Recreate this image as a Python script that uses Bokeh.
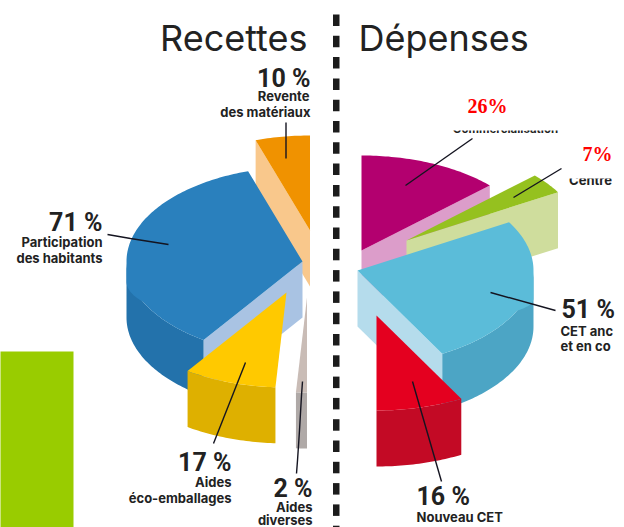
import numpy as np
from bokeh.plotting import figure
from bokeh.models import Range1d
from bokeh.core.properties import value
from bokeh.embed import file_html
from bokeh.resources import INLINE

# ---- data
recettes_labels = ["Revente des matériaux", "Participation des habitants", "Aides éco-emballages", "Aides diverses"]
recettes_values = [10, 71, 17, 2]
depenses_labels = ["Commercialisation", "Centre", "CET anciens et en cours", "Nouveau CET"]
depenses_values = [26, 7, 51, 16]

# ---- half-pie geometry: 100 % spans 180 degrees
RX, RY, DEPTH = 176, 95, 56
DEG_PER_PCT = 1.8
rec_apex = [(309.5, 230), (302, 261), (286, 292), (306.5, 297)]
dep_apex = [(361, 250), (406, 240), (357, 270), (376, 315)]
rec_rim = [0, 20, 0, 0]
dep_rim = [0, 0, 28, 0]

rec_col = [("#f09200", "#f9c88c", None), ("#2a80bd", "#a9c3e3", "#2372ab"),
           ("#ffc900", None, "#deb000"), ("#c9bcb6", None, "#afa9a7")]
dep_col = [("#b3006f", "#dc9dca", None), ("#95c11f", "#cfdd9d", None),
           ("#5bbcd9", "#b5dcec", "#4ca5c5"), ("#e4001f", None, "#c30a25")]

p = figure(width=624, height=527, output_backend="svg", toolbar_location=None,
           x_range=Range1d(0, 624), y_range=Range1d(527, 0), min_border=0,
           outline_line_color=None, background_fill_color="white")
p.axis.visible = False
p.grid.visible = False


def pt(c, t):
    r = np.radians(t)
    return c[0] + RX * np.cos(r), c[1] - RY * np.sin(r)


def draw(c, t1, t2, cols, face_at, rim):
    top, face, side = cols
    if face is not None:
        ex, ey = pt(c, face_at)
        p.patch([c[0], ex, ex, c[0]], [c[1], ey, ey + DEPTH, c[1] + DEPTH], color=face, line_width=0)
    lo, hi = min(t1, t2), max(t1, t2)
    if side is not None:
        # the outer wall is visible only where the rim faces the viewer (lower half of the ellipse)
        ts = np.array([t for t in np.arange(lo, hi + .01, 1.0) if np.sin(np.radians(t)) <= 0.001] + [hi if np.sin(np.radians(hi)) <= 0 else lo])
        ts = np.sort(ts)
        xs, ys = pt(c, ts)
        p.patch(np.r_[xs, xs[::-1]], np.r_[ys, ys[::-1] + DEPTH], color=side, line_width=0)
    ts = np.r_[np.arange(lo, hi, 1.0), hi]
    xs, ys = pt(c, ts)
    # the top face's rim droops a little where it turns to the horizontal extreme
    s = np.sin(np.radians(ts))
    d = np.degrees(np.arcsin(np.abs(s)))
    ys = ys + np.where(s < 0.001, rim * np.clip(1 - d / 25, 0, 1), 0)
    p.patch(np.r_[c[0], xs], np.r_[c[1], ys], color=top, line_width=0)


# Recettes: counter-clockwise from the top
a = 90.0
for v, c, cols, rim in zip(recettes_values, rec_apex, rec_col, rec_rim):
    b = a + v * DEG_PER_PCT
    draw(c, a, b, cols, b, rim)
    a = b

# Dépenses: clockwise from the top
a = 90.0
for v, c, cols, rim in zip(depenses_values, dep_apex, dep_col, dep_rim):
    b = a - v * DEG_PER_PCT
    draw(c, a, b, cols, b, rim)
    a = b

# green block
p.quad(left=[-3], right=[73], top=[351], bottom=[530], color="#99cc00", line_width=0)

# dashed divider
yd = np.arange(14, 527, 21.3)
p.quad(left=332.5, right=339, top=yd, bottom=yd + 11.5, color="#1c1c1c", line_width=0)

# leaders
leaders = [
    ([285.5, 285.5], [122, 158]),
    ([107, 130, 168], [234, 238, 244]),
    ([245, 213], [362, 443]),
    ([302, 301, 299, 297, 296], [381, 395, 430, 460, 473]),
    ([472, 405], [138, 185]),
    ([561, 513], [168, 197]),
    ([490, 555], [292, 310]),
    ([412, 441], [381, 481]),
]
for xs, ys in leaders:
    p.line(xs, ys, line_color="#141420", line_width=1.4)

INK = "#222222"


def txt(x, y, s, size, align="left", font="Inter", style="normal", color=INK):
    # y is the wanted baseline; the svg backend centres the text on its anchor
    p.text([x], [y - 0.36 * size], text=[s], text_font=value(font), text_font_size=f"{size}px",
           text_align=align, text_baseline="alphabetic", text_color=color, text_font_style=style)


PCT = "Roboto"
PS = 25
LAB = 13
txt(307, 50, "Recettes", 36, "right")
txt(358, 50, "Dépenses", 36)

txt(310, 87, "10 %", PS, "right", PCT, "bold")
txt(309, 100, "Revente", LAB, "right", "Inter", "bold")
txt(310, 116, "des matériaux", LAB, "right", "Inter", "bold")
txt(102, 231, "71 %", PS, "right", PCT, "bold")
txt(102, 246, "Participation", LAB, "right", "Inter", "bold")
txt(102, 262, "des habitants", LAB, "right", "Inter", "bold")
txt(231, 471, "17 %", PS, "right", PCT, "bold")
txt(231, 486, "Aides", LAB, "right", "Inter", "bold")
txt(231, 502, "éco-emballages", LAB, "right", "Inter", "bold")
txt(312, 497, "2 %", PS, "right", PCT, "bold")
txt(312, 511, "Aides", LAB, "right", "Inter", "bold")
txt(312, 524, "diverses", LAB, "right", "Inter", "bold")
txt(561, 318, "51 %", PS, "left", PCT, "bold")
txt(560, 335, "CET anc", LAB, "left", "Inter", "bold")
txt(560, 350, "et en co", LAB, "left", "Inter", "bold")
txt(416, 505, "16 %", PS, "left", PCT, "bold")
txt(416, 521, "Nouveau CET", LAB, "left", "Inter", "bold")

# labels hidden by white patches in the original
txt(505, 133, "Commercialisation", 11.5, "center", "Inter", "bold")
txt(590, 184, "Centre", LAB, "center", "Inter", "bold")
p.quad(left=[440, 563], right=[563, 624], top=[95, 140], bottom=[130, 178], color="white", line_width=0)

txt(487, 113, "26%", 20, "center", "Liberation Serif", "bold", "#ff0000")
txt(597, 161, "7%", 20, "center", "Liberation Serif", "bold", "#ff0000")

open("out.html", "w").write(file_html(p, INLINE))
